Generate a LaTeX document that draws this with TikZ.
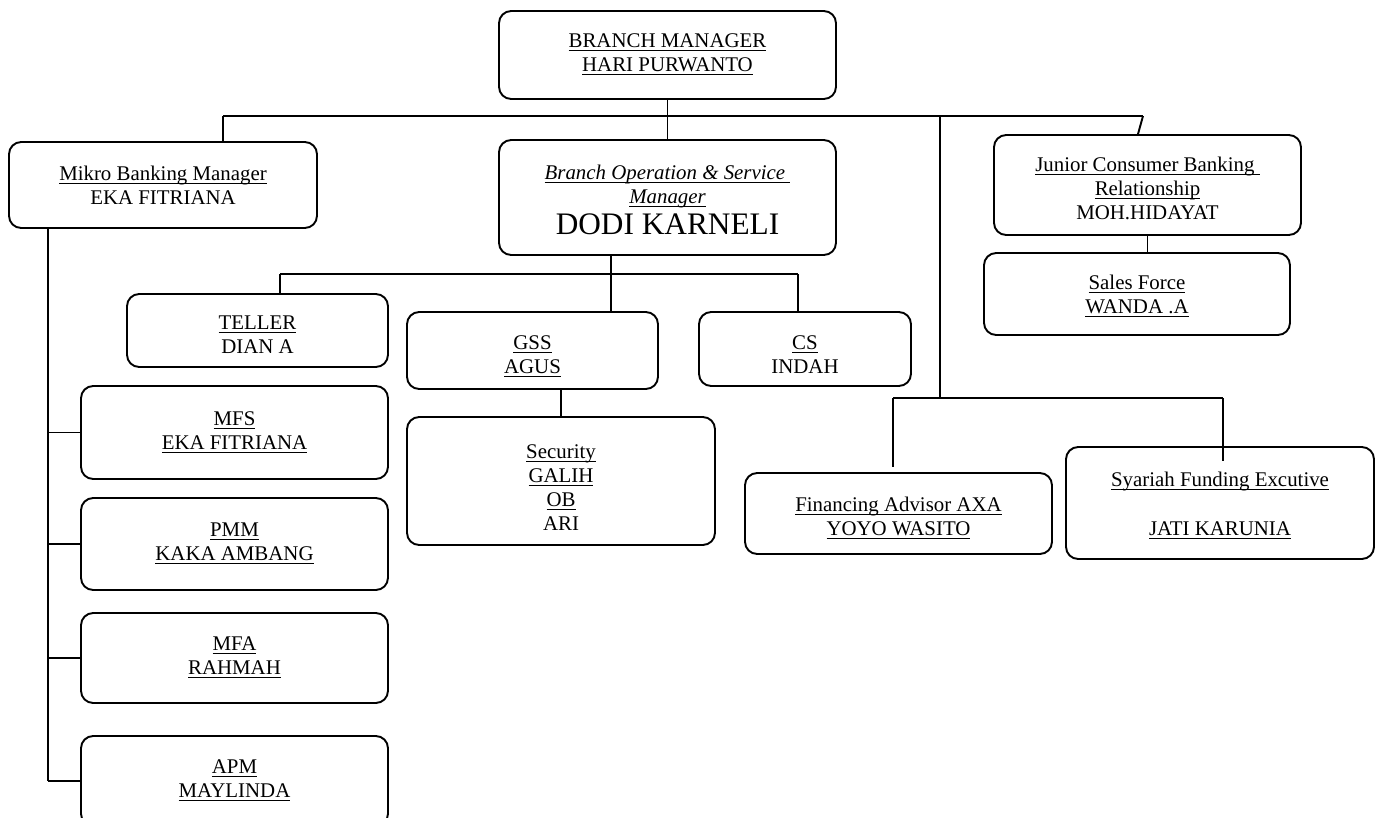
\documentclass[tikz,border=0pt]{standalone}
\usepackage{amsmath}
\usepackage{fontspec}
\setmainfont{Liberation Serif}
\usetikzlibrary{positioning,calc}
\def\ulin#1{\underline{\smash[b]{#1}}}
\def\dnstrut#1{\rule{0pt}{#1}}
\tikzset{
  box/.style 2 args={draw, line width=1.1pt, rounded corners=7pt, align=center,
    inner sep=0pt, minimum width=#1*0.575pt, minimum height=#2*0.575pt},
}

\begin{document}
\begin{tikzpicture}[x=0.575pt, y=-0.575pt, line width=1.1pt,
  font=\fontsize{12}{13.8}\selectfont]
\useasboundingbox (0,0) rectangle (1382,817);
% top and managers
\node[box={337}{88}] (bm) at (667.5,55) {\ulin{BRANCH MANAGER}\\ \ulin{HARI PURWANTO}};
\node[box={308}{86}] (mbm) at (163,185) {\ulin{Mikro Banking Manager}\\ EKA FITRIANA};
\node[box={337}{115}] (bos) at (667.5,197.5) {\dnstrut{11.1pt}\textit{\ulin{Branch Operation \& Service\ }}\\
  \textit{\ulin{Manager}}\\[2.1pt] {\fontsize{18}{18}\selectfont DODI KARNELI}};
\node[box={307}{100}] (jcb) at (1147.5,185) {\dnstrut{12.8pt}\ulin{Junior Consumer Banking\ }\\
  \ulin{Relationship}\\ MOH.HIDAYAT};
\node[box={306}{82}] (sf) at (1137,294) {\dnstrut{11.1pt}\ulin{Sales Force}\\ \ulin{WANDA .A}};
% operation staff
\node[box={261}{73}] (tel) at (257.5,330.5) {\dnstrut{12.5pt}\ulin{TELLER}\\ DIAN A};
\node[box={251}{77}] (gss) at (532.5,350.5) {\dnstrut{14.8pt}\ulin{GSS}\\ \ulin{AGUS}};
\node[box={212}{74}] (cs) at (805,349) {\dnstrut{14.8pt}\ulin{CS}\\ INDAH};
\node[box={308}{128}] (sec) at (561,481) {\dnstrut{15.1pt}\ulin{Security}\\ \ulin{GALIH}\\ \ulin{OB}\\ ARI};
% mikro staff
\node[box={307}{93}] (mfs) at (234.5,432.5) {\ulin{MFS}\\ \ulin{EKA FITRIANA}};
\node[box={307}{92}] (pmm) at (234.5,544) {\ulin{PMM}\\ \ulin{KAKA AMBANG}};
\node[box={307}{90}] (mfa) at (234.5,658) {\ulin{MFA}\\ \ulin{RAHMAH}};
\node[box={307}{90}] (apm) at (234.5,781) {\ulin{APM}\\ \ulin{MAYLINDA}};
% funding
\node[box={307}{81}] (fin) at (898.5,513.5) {\dnstrut{14pt}\ulin{Financing Advisor AXA}\\ \ulin{YOYO WASITO}};
\node[box={308}{112}] (syr) at (1220,503) {\dnstrut{11.7pt}\ulin{Syariah Funding Excutive}\\[14pt] \ulin{JATI KARUNIA}};

% lines
\coordinate (b1l) at (223,116);
\coordinate (b1r) at (1143,116);
\coordinate (b2l) at (280,274);
\coordinate (b2m) at (611,274);
\coordinate (b2r) at (798,274);
\coordinate (b3l) at (893,398);
\coordinate (b3m) at (940,398);
\coordinate (b3r) at (1223,398);
\coordinate (mv) at (48,0);
\draw (b1l) -- (b1r);
\draw (bm.south) -- (bos.north);
\draw (b1l) -- (b1l |- mbm.north);
\draw (b1r) -- ($(b1r |- jcb.north)+(-5,0)$);
\draw (jcb.south) -- (jcb.south |- sf.north);
\draw (b2l) -- (b2r);
\draw (b2m |- bos.south) -- (b2m |- gss.north);
\draw (b2l) -- (b2l |- tel.north);
\draw (b2r) -- (b2r |- cs.north);
\draw (sec.north |- gss.south) -- (sec.north);
\draw (b3m |- b1l) -- (b3m);
\draw (b3l) -- (b3r);
\draw[shorten >=3pt] (b3l) -- (b3l |- fin.north);
\draw (b3r) -- ($(b3r |- syr.north)+(0,15)$);
\draw (mv |- mbm.south) -- (mv |- apm.west);
\foreach \n in {mfs,pmm,mfa,apm}
  \draw (mv |- \n.west) -- (\n.west);
\end{tikzpicture}
\end{document}
